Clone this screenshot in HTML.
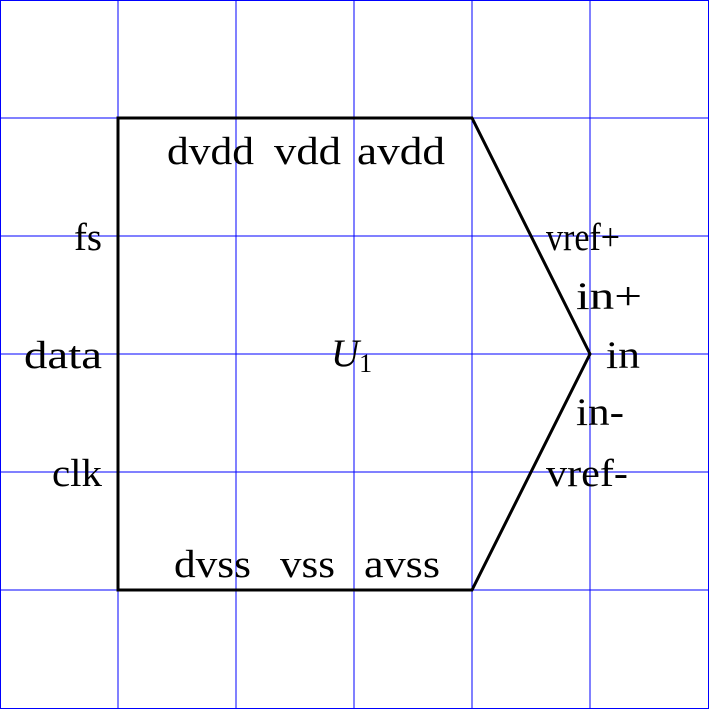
<!DOCTYPE html>
<html><head><meta charset="utf-8"><style>html,body{margin:0;padding:0;background:#fff}</style></head>
<body>
<svg width="709" height="709" viewBox="0 0 709 709" xmlns="http://www.w3.org/2000/svg" font-family="Liberation Serif, serif" font-size="39">
<g stroke="#0000ff" stroke-width="1">
<line x1="0.5" y1="0" x2="0.5" y2="709"/><line x1="118" y1="0" x2="118" y2="709"/><line x1="236" y1="0" x2="236" y2="709"/><line x1="354" y1="0" x2="354" y2="709"/><line x1="472" y1="0" x2="472" y2="709"/><line x1="590" y1="0" x2="590" y2="709"/><line x1="708.5" y1="0" x2="708.5" y2="709"/>
<line x1="0" y1="0.5" x2="709" y2="0.5"/><line x1="0" y1="118" x2="709" y2="118"/><line x1="0" y1="236" x2="709" y2="236"/><line x1="0" y1="354" x2="709" y2="354"/><line x1="0" y1="472" x2="709" y2="472"/><line x1="0" y1="590" x2="709" y2="590"/><line x1="0" y1="708.5" x2="709" y2="708.5"/>
</g>
<polygon points="118,118 472,118 590,354 472,590 118,590" fill="none" stroke="#000" stroke-width="3"/>
<g fill="#000" lengthAdjust="spacingAndGlyphs">
<text x="102" y="250" text-anchor="end" textLength="28" lengthAdjust="spacingAndGlyphs">fs</text>
<text x="102" y="368" text-anchor="end" textLength="78" lengthAdjust="spacingAndGlyphs">data</text>
<text x="102" y="486" text-anchor="end" textLength="50" lengthAdjust="spacingAndGlyphs">clk</text>
<text x="167" y="164" textLength="87" lengthAdjust="spacingAndGlyphs">dvdd</text>
<text x="274" y="164" textLength="67" lengthAdjust="spacingAndGlyphs">vdd</text>
<text x="357" y="164" textLength="88" lengthAdjust="spacingAndGlyphs">avdd</text>
<text x="174" y="577" textLength="77" lengthAdjust="spacingAndGlyphs">dvss</text>
<text x="280" y="577" textLength="55" lengthAdjust="spacingAndGlyphs">vss</text>
<text x="364" y="577" textLength="76" lengthAdjust="spacingAndGlyphs">avss</text>
<text x="546" y="250" textLength="74" lengthAdjust="spacingAndGlyphs">vref+</text>
<text x="576" y="309" textLength="66" lengthAdjust="spacingAndGlyphs">in+</text>
<text x="606" y="368" textLength="34" lengthAdjust="spacingAndGlyphs">in</text>
<text x="576" y="425" textLength="48" lengthAdjust="spacingAndGlyphs">in-</text>
<text x="546" y="486" textLength="82" lengthAdjust="spacingAndGlyphs">vref-</text>
<text x="331" y="366" font-style="italic">U<tspan font-size="26" font-style="normal" dy="6">1</tspan></text>
</g>
</svg>
</body></html>
